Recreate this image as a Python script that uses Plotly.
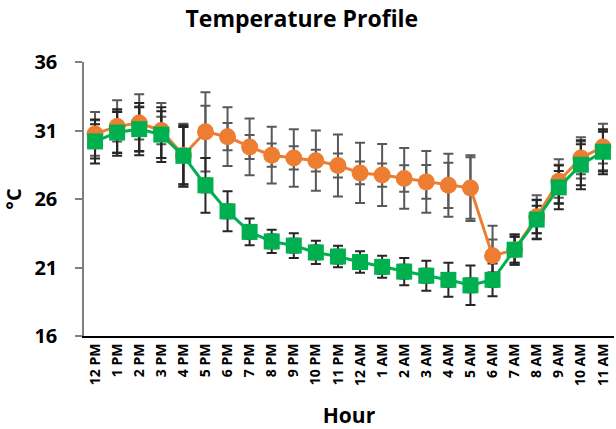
import plotly.graph_objects as go

hours = ["12 PM", "1 PM", "2 PM", "3 PM", "4 PM", "5 PM", "6 PM", "7 PM",
         "8 PM", "9 PM", "10 PM", "11 PM", "12 AM", "1 AM", "2 AM", "3 AM",
         "4 AM", "5 AM", "6 AM", "7 AM", "8 AM", "9 AM", "10 AM", "11 AM"]

# Series A (orange circles)
temp_a = [30.75, 31.3, 31.55, 31.0, 29.2, 30.9, 30.55, 29.8, 29.2, 29.0, 28.8, 28.45,
          27.9, 27.75, 27.5, 27.25, 27.0, 26.8, 21.85, 22.3, 24.7, 27.3, 29.0, 29.8]
err_a_outer = [1.6, 1.9, 2.1, 2.0, 2.3, 2.9, 2.15, 2.07, 2.07, 2.1, 2.2, 2.26,
               2.2, 2.26, 2.22, 2.26, 2.3, 2.4, 2.2, 1.1, 1.58, 1.6, 1.5, 1.7]
err_a_inner = [1.0, 1.1, 1.2, 1.0, 2.1, 1.9, 1.0, 0.88, 0.85, 0.85, 0.8, 0.88,
               0.83, 0.85, 0.97, 1.24, 1.65, 2.25, 1.2, 0.95, 1.2, 1.2, 1.2, 1.2]

# Series B (green squares)
temp_b = [30.2, 30.85, 31.1, 30.7, 29.15, 27.0, 25.1, 23.6, 22.9, 22.6, 22.1, 21.8,
          21.4, 21.05, 20.7, 20.4, 20.1, 19.7, 20.1, 22.3, 24.5, 26.85, 28.5, 29.45]
err_b_outer = [1.6, 1.7, 1.9, 2.0, 2.24, 2.0, 1.46, 0.97, 0.85, 0.9, 0.85, 0.78,
               0.78, 0.8, 1.0, 1.1, 1.24, 1.44, 1.2, 1.1, 1.44, 1.6, 1.78, 1.65]
err_b_inner = [1.25, 1.5, 1.6, 1.7, 2.1, 0.5, 0.5, 0.5, 0.5, 0.5, 0.5, 0.5,
               0.5, 0.5, 0.5, 0.5, 0.5, 0.5, 0.5, 0.95, 1.0, 1.2, 1.5, 1.45]

ORANGE = "#ED7D31"
GREEN = "#00B050"
FONT = "Open Sans"

fig = go.Figure()


def add_errors(values, errs, color):
    fig.add_trace(go.Scatter(
        x=hours, y=values, mode="markers",
        marker=dict(size=1, color="rgba(0,0,0,0)"),
        error_y=dict(type="data", array=errs, visible=True,
                     color=color, thickness=2, width=5),
        hoverinfo="skip", showlegend=False,
    ))


add_errors(temp_a, err_a_outer, "#595959")
add_errors(temp_a, err_a_inner, "#595959")
add_errors(temp_b, err_b_outer, "#262626")
add_errors(temp_b, err_b_inner, "#262626")

fig.add_trace(go.Scatter(
    x=hours, y=temp_a, mode="lines+markers",
    line=dict(color=ORANGE, width=3),
    marker=dict(symbol="circle", size=17, color=ORANGE),
    showlegend=False,
))
fig.add_trace(go.Scatter(
    x=hours, y=temp_b, mode="lines+markers",
    line=dict(color=GREEN, width=3),
    marker=dict(symbol="square", size=16, color=GREEN),
    showlegend=False,
))

fig.update_layout(
    width=616, height=429,
    margin=dict(l=84, r=2, t=62, b=93),
    paper_bgcolor="white", plot_bgcolor="white",
    font=dict(family=FONT, color="black"),
    title=dict(text="<b>Temperature Profile</b>", x=0.49, xanchor="center",
               y=0.955, yanchor="middle", font=dict(size=23, family=FONT)),
    xaxis=dict(
        type="category", range=[-0.5, 23.5],
        showline=True, linecolor="black", linewidth=2,
        showgrid=False, ticks="", tickangle=-90,
        tickfont=dict(size=14, family=FONT, weight="bold"),
        title=dict(text="<b>Hour</b>", font=dict(size=21, family=FONT), standoff=26),
    ),
    yaxis=dict(
        range=[16, 36], tick0=16, dtick=5,
        showline=True, linecolor="#808080", linewidth=1.5,
        showgrid=False, zeroline=False,
        ticks="outside", ticklen=7, tickcolor="#808080", tickwidth=1.5,
        ticklabelstandoff=14,
        tickfont=dict(size=20, family=FONT, weight="bold"),
        title=dict(text="<b>°C</b>", font=dict(size=20, family=FONT), standoff=10),
    ),
)

fig.write_html("out.html")
